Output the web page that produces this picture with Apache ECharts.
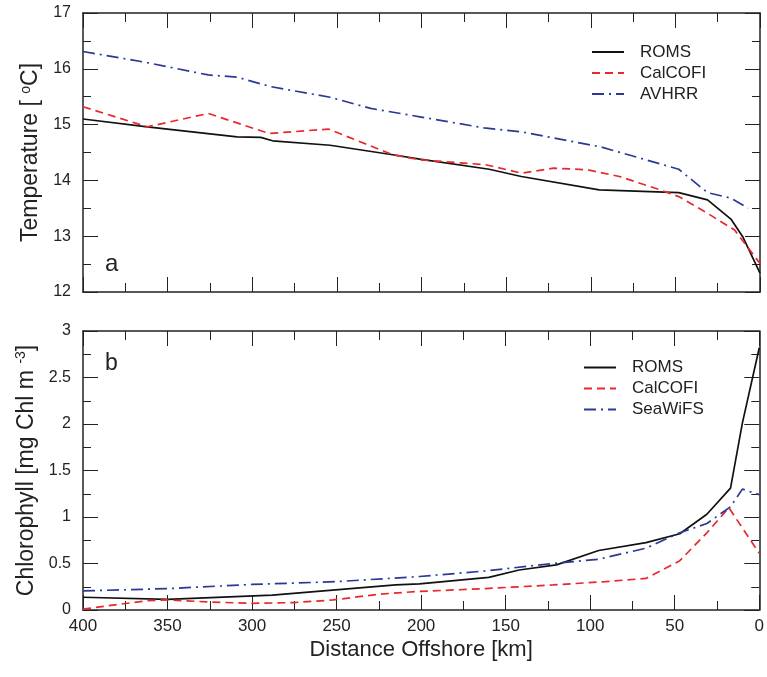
<!DOCTYPE html>
<html>
<head>
<meta charset="utf-8">
<script src="https://cdn.jsdelivr.net/npm/echarts@6/dist/echarts.min.js"></script>
<style>html,body{margin:0;padding:0;background:#fff;}#c{width:767px;height:677px;}</style>
</head>
<body>
<div id="c"></div>
<script>
// Distance ticks
var xTicks = [400, 350, 300, 250, 200, 150, 100, 50, 0];

// Panel a: temperature
var tRomsDist = [400, 362, 309, 295, 288, 254, 217, 201, 160, 141, 95, 48, 31, 17, 10, 0];
var tRomsVal  = [15.10, 14.96, 14.78, 14.77, 14.71, 14.63, 14.46, 14.38, 14.20, 14.07, 13.83, 13.78, 13.65, 13.30, 12.98, 12.34];
var tCalDist  = [400, 362, 326, 290, 255, 217, 201, 162, 141, 122, 102, 83, 59, 48, 31, 15, 0];
var tCalVal   = [15.32, 14.96, 15.20, 14.84, 14.92, 14.46, 14.37, 14.28, 14.13, 14.22, 14.19, 14.07, 13.83, 13.71, 13.41, 13.11, 12.51];
var tAvhDist  = [400, 362, 326, 309, 289, 254, 230, 201, 163, 141, 94, 48, 31, 17, 7];
var tAvhVal   = [16.31, 16.11, 15.89, 15.85, 15.68, 15.49, 15.29, 15.14, 14.94, 14.87, 14.60, 14.20, 13.78, 13.68, 13.50];

// Panel b: chlorophyll
var cRomsDist = [400, 350, 288, 215, 201, 160, 142, 120, 95, 67, 47, 31, 17, 10, 0];
var cRomsVal  = [0.137, 0.115, 0.16, 0.27, 0.28, 0.35, 0.43, 0.485, 0.64, 0.725, 0.82, 1.03, 1.31, 2.01, 2.82];
var cCalDist  = [400, 362, 350, 325, 300, 276, 252, 225, 201, 162, 122, 91, 67, 47, 31, 18, 0];
var cCalVal   = [0.01, 0.10, 0.108, 0.086, 0.072, 0.079, 0.108, 0.17, 0.20, 0.23, 0.27, 0.305, 0.34, 0.53, 0.83, 1.10, 0.61];
var cSeaDist  = [400, 350, 300, 250, 201, 162, 122, 95, 67, 47, 31, 17, 10, 0];
var cSeaVal   = [0.205, 0.23, 0.275, 0.305, 0.36, 0.42, 0.50, 0.546, 0.665, 0.83, 0.93, 1.11, 1.30, 1.24];

function pairs(d, v) { return d.map(function (x, i) { return [x, v[i]]; }); }

var INK = '#222';
var RED = '#e8282c';
var BLUE = '#2b3896';
var FONT = 'Liberation Sans, Arial, sans-serif';

function xAx(grid, pos, labels) {
  return {
    type: 'value', gridIndex: grid, position: pos, min: 0, max: 400, interval: 50, inverse: true,
    axisLine: { show: true, onZero: false, lineStyle: { color: INK, width: 1.5 } },
    axisTick: { show: true, inside: true, length: 15, lineStyle: { color: INK, width: 1 } },
    minorTick: { show: true, splitNumber: 2, length: 9, lineStyle: { color: INK, width: 1 } },
    splitLine: { show: false },
    axisLabel: { show: labels, fontSize: 17, color: INK, fontFamily: FONT, margin: 8 },
    name: labels ? 'Distance Offshore [km]' : '',
    nameLocation: 'middle', nameGap: 29,
    nameTextStyle: { fontSize: 22, color: INK, fontFamily: FONT }
  };
}
function yAx(grid, pos, min, max, interval, labels, name) {
  return {
    type: 'value', gridIndex: grid, position: pos, min: min, max: max, interval: interval,
    axisLine: { show: true, onZero: false, lineStyle: { color: INK, width: 1.5 } },
    axisTick: { show: true, inside: true, length: 15, lineStyle: { color: INK, width: 1 } },
    minorTick: { show: true, splitNumber: 2, length: 8, lineStyle: { color: INK, width: 1 } },
    splitLine: { show: false },
    axisLabel: { show: labels, fontSize: 16, color: INK, fontFamily: FONT, margin: 12 },
    name: name || '', nameLocation: 'middle', nameGap: 39,
    nameTextStyle: {
      fontSize: 23, color: INK, fontFamily: FONT,
      rich: { sup: { fontSize: 14, color: INK, fontFamily: FONT, padding: [0, 0, 10, 0] } }
    }
  };
}
function line(name, x, y, d, v, color, type) {
  return {
    name: name, type: 'line', xAxisIndex: x, yAxisIndex: y, data: pairs(d, v),
    symbol: 'none', showSymbol: false, animation: false, z: 3,
    lineStyle: { color: color, width: 1.7, type: type },
    itemStyle: { color: color }
  };
}
function legendAt(left, top, names) {
  return {
    left: left, top: top, orient: 'vertical', padding: 0,
    itemWidth: 32, itemHeight: 17, itemGap: 4,
    data: names, selectedMode: false,
    itemStyle: { opacity: 0 },
    textStyle: { fontSize: 17, color: INK, fontFamily: FONT, padding: [0, 0, 0, 11] }
  };
}

var chart = echarts.init(document.getElementById('c'));
chart.setOption({
  backgroundColor: '#fff',
  animation: false,
  textStyle: { fontFamily: FONT },
  grid: [
    { left: 83, right: 7, top: 13, height: 279 },
    { left: 83, right: 7, top: 331, height: 279 }
  ],
  xAxis: [
    xAx(0, 'bottom', false), xAx(0, 'top', false),
    xAx(1, 'bottom', true), xAx(1, 'top', false)
  ],
  yAxis: [
    yAx(0, 'left', 12, 17, 1, true, 'Temperature [ {sup|o}C]'), yAx(0, 'right', 12, 17, 1, false),
    yAx(1, 'left', 0, 3, 0.5, true, 'Chlorophyll [mg Chl m {sup|-3}]'), yAx(1, 'right', 0, 3, 0.5, false)
  ],
  legend: [
    legendAt(591, 43.5, ['ROMS', 'CalCOFI', 'AVHRR']),
    legendAt(583, 359, ['ROMS', 'CalCOFI', 'SeaWiFS'])
  ],
  graphic: [
    { type: 'text', left: 105, top: 252, style: { text: 'a', font: '24px ' + FONT, fill: INK } },
    { type: 'text', left: 105, top: 352, style: { text: 'b', font: '23px ' + FONT, fill: INK } }
  ],
  series: [
    line('ROMS', 0, 0, tRomsDist, tRomsVal, '#111', 'solid'),
    line('CalCOFI', 0, 0, tCalDist, tCalVal, RED, [8, 5]),
    line('AVHRR', 0, 0, tAvhDist, tAvhVal, BLUE, [12, 5, 2, 5]),
    line('ROMS', 2, 2, cRomsDist, cRomsVal, '#111', 'solid'),
    line('CalCOFI', 2, 2, cCalDist, cCalVal, RED, [8, 5]),
    line('SeaWiFS', 2, 2, cSeaDist, cSeaVal, BLUE, [12, 5, 2, 5])
  ]
});
</script>
</body>
</html>
